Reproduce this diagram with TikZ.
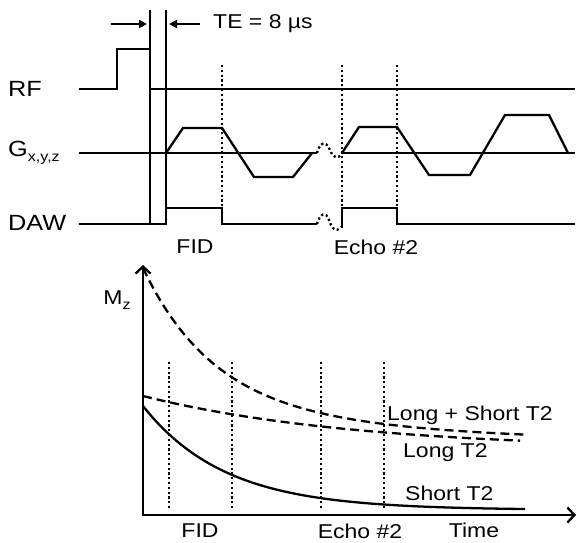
\documentclass[tikz,border=0pt]{standalone}
\usepackage{fontspec}
\setmainfont{Liberation Sans}[FakeStretch=1.15]
\usetikzlibrary{arrows.meta}
\tikzset{
  sig/.style  = {line width=2.3pt, line join=miter},
  gap/.style  = {line width=2.3pt, dash pattern=on 2.2pt off 2.6pt},
  dsh/.style  = {line width=2.3pt, dash pattern=on 9pt off 5pt},
  axis/.style = {line width=2.3pt, {Straight Barb[length=7pt,width=15pt]}-{Straight Barb[length=7pt,width=15pt]}},
  te/.style   = {line width=2.3pt, -{Triangle[length=8pt,width=8pt]}},
  lbl/.style  = {font=\fontsize{20}{24}\selectfont, inner sep=0pt},
  row/.style  = {font=\fontsize{22}{26}\selectfont, inner sep=0pt, anchor=west},
}
\newcommand{\lowsub}[1]{\raisebox{-4.5pt}{\fontsize{14}{14}\selectfont #1}}

\begin{document}
\begin{tikzpicture}[x=1pt, y=-1pt]
  \useasboundingbox (0,0) rectangle (577,542);

  % ---- pulse sequence ----
  \node[row] (rf)  at (8,89)  {RF};
  \node[row] (grd) at (8,153) {G\lowsub{x,y,z}};
  \node[row] (daw) at (8,223) {DAW};

  % TE bars and arrows
  \coordinate (barA) at (150,10);
  \coordinate (barB) at (166,10);
  \draw[sig] (barA) -- (150,225);
  \draw[sig] (barB) -- (166,225);
  \coordinate (arA) at (111,24);
  \coordinate (arB) at (200,24);
  \draw[te] (arA) -- (147,24);
  \draw[te] (arB) -- (169,24);
  \node[lbl, anchor=west] (te) at (213,24) {TE = 8 µs};

  % RF line
  \draw[sig] (79,89) -- (117,89) -- (117,49) -- (150,49);
  \draw[sig] (150,89) -- (575,89);

  % gradient
  \draw[sig] (79,153) -- (317,153);
  \draw[sig] (166,153) -- (183,128) -- (222,128) -- (254,177) -- (293,177) -- (312,153);
  \draw[gap] (317,153) .. controls (320,142) and (326,140) .. (330,150)
             .. controls (333,158) and (338,160) .. (342,153);
  \draw[sig] (342,153) -- (575,153);
  \draw[sig] (342,153) -- (359,127) -- (397,127) -- (429,175) -- (470,175)
             -- (505,115) -- (549,115) -- (568,153);

  % data acquisition window
  \draw[sig] (79,224) -- (166,224) -- (166,208) -- (222,208) -- (222,224) -- (317,224);
  \draw[gap] (317,224) .. controls (320,213) and (326,211) .. (329,220)
             .. controls (332,229) and (336,233) .. (341,227);
  \draw[sig] (342,228) -- (342,208) -- (397,208) -- (397,224) -- (575,224);

  % sampling marks
  \foreach \xx in {222,342,397}
    \draw[gap] (\xx,65) -- (\xx,208);

  \node[lbl] (fidA)  at (195,247) {FID};
  \node[lbl] (echoA) at (376,247) {Echo \#2};

  % ---- decay curves ----
  \coordinate (org)  at (143,515);
  \coordinate (ytop) at (143,265);
  \coordinate (xend) at (576,515);
  \draw[axis] (ytop) -- (org) -- (xend);
  \node[lbl] (mz) at (117,300) {M\lowsub{z}};

  \foreach \xx in {169,232,321,384}
    \draw[gap] (\xx,362) -- (\xx,508);

  \draw[dsh] plot[domain=143:525, samples=80]
    (\x, {443-47*exp(-(\x-143)/215)-128*exp(-(\x-143)/68)});
  \draw[dsh] plot[domain=143:520, samples=60]
    (\x, {450-54*exp(-(\x-143)/215)});
  \draw[sig] plot[domain=143:525, samples=80]
    (\x, {510-104*exp(-(\x-143)/82)});

  \node[lbl, anchor=west] (both)  at (387,415) {Long + Short T2};
  \node[lbl, anchor=west] (long)  at (403,453) {Long T2};
  \node[lbl, anchor=west] (short) at (405,493) {Short T2};

  \node[lbl] (fidB)  at (200,531) {FID};
  \node[lbl] (echoB) at (360,531) {Echo \#2};
  \node[lbl] (time)  at (474,530) {Time};
\end{tikzpicture}
\end{document}
